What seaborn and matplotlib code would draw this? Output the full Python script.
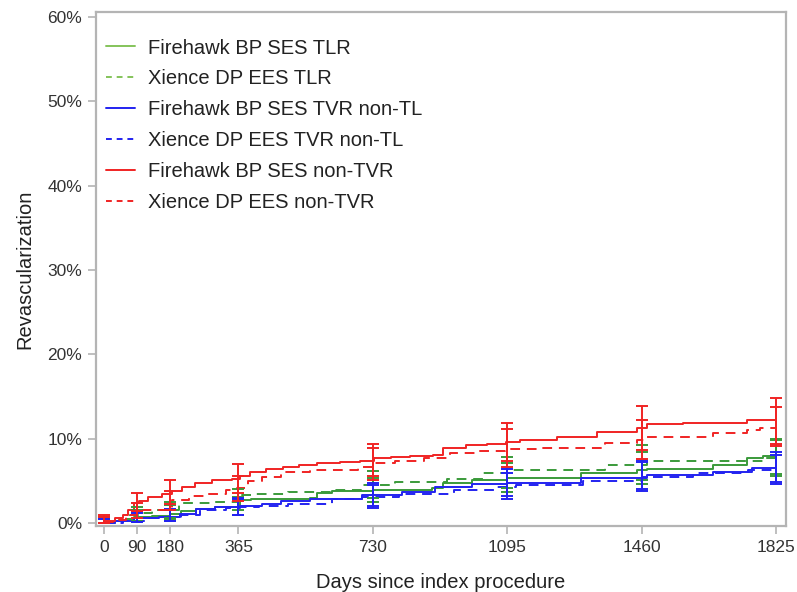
import matplotlib
matplotlib.use("Agg")
import matplotlib.pyplot as plt
import seaborn as sns
import pandas as pd
import numpy as np

# ---------------- data ----------------
series_names = [
    "Firehawk BP SES TLR",
    "Xience DP EES TLR",
    "Firehawk BP SES TVR non-TL",
    "Xience DP EES TVR non-TL",
    "Firehawk BP SES non-TVR",
    "Xience DP EES non-TVR",
]

# Step curves (days, cumulative %)
f_tlr_days = [0, 30, 60, 80, 130, 180, 210, 250, 300, 368, 400, 560, 578, 620, 730, 890, 920, 1000, 1095, 1294, 1448, 1475, 1655, 1746, 1790, 1825]
f_tlr_pct = [0.05, 0.3, 0.5, 0.75, 0.85, 1.1, 1.4, 1.7, 1.9, 2.7, 2.9, 3.0, 3.6, 3.8, 3.9, 4.1, 4.7, 5.1, 5.4, 5.9, 6.3, 6.4, 6.9, 7.7, 7.9, 7.9]

x_tlr_days = [0, 40, 70, 95, 130, 204, 300, 365, 375, 400, 500, 620, 700, 790, 930, 1030, 1100, 1360, 1475, 1700, 1790, 1825]
x_tlr_pct = [0.05, 0.4, 0.95, 1.2, 1.5, 2.4, 2.5, 2.7, 3.3, 3.5, 3.7, 3.9, 4.5, 4.9, 5.2, 5.9, 6.3, 6.9, 7.3, 7.4, 7.7, 7.7]

f_tvr_days = [0, 30, 80, 150, 205, 250, 300, 370, 430, 480, 560, 700, 810, 900, 1000, 1095, 1294, 1475, 1655, 1760, 1825]
f_tvr_pct = [0.0, 0.3, 0.6, 0.75, 1.1, 1.7, 1.95, 2.05, 2.2, 2.65, 2.9, 3.3, 3.7, 4.3, 4.6, 4.75, 5.3, 5.7, 6.1, 6.5, 6.5]

x_tvr_days = [0, 50, 120, 210, 260, 330, 370, 420, 500, 620, 700, 800, 950, 1060, 1120, 1300, 1460, 1600, 1750, 1825]
x_tvr_pct = [0.0, 0.3, 0.55, 0.95, 1.5, 1.8, 1.9, 2.0, 2.3, 2.9, 3.1, 3.5, 3.9, 4.3, 4.5, 5.0, 5.5, 5.9, 6.3, 6.3]

f_ntvr_days = [0, 15, 30, 50, 65, 80, 95, 120, 157, 185, 211, 248, 293, 348, 368, 395, 440, 487, 530, 577, 640, 695, 732, 780, 830, 893, 920, 983, 1040, 1092, 1130, 1230, 1339, 1448, 1475, 1573, 1746, 1825]
f_ntvr_pct = [0.2, 0.3, 0.55, 1.0, 1.5, 2.4, 2.6, 3.1, 3.5, 3.8, 4.3, 4.8, 5.1, 5.2, 5.6, 6.0, 6.4, 6.7, 6.9, 7.1, 7.2, 7.3, 7.7, 7.8, 7.9, 8.1, 8.9, 9.25, 9.4, 9.65, 9.8, 10.2, 10.8, 11.3, 11.7, 11.9, 12.2, 12.2]

x_ntvr_days = [0, 30, 60, 85, 185, 230, 280, 330, 360, 390, 430, 480, 560, 690, 735, 790, 870, 940, 1010, 1090, 1175, 1360, 1448, 1475, 1655, 1746, 1782, 1825]
x_ntvr_pct = [0.1, 0.4, 0.9, 1.5, 2.7, 3.2, 3.5, 3.9, 4.1, 5.0, 5.5, 6.1, 6.3, 6.6, 7.1, 7.3, 7.7, 8.3, 8.5, 8.8, 8.9, 9.5, 9.8, 10.2, 10.7, 11.0, 11.3, 11.4]

# Confidence intervals at landmark days
ci_days = [0, 90, 180, 365, 730, 1095, 1460, 1825]
f_tlr_lo = [0.0, 0.2, 0.5, 1.0, 2.5, 3.7, 4.6, 5.8]
f_tlr_hi = [0.6, 1.6, 2.1, 3.1, 5.3, 7.1, 8.4, 10.0]
x_tlr_lo = [0.0, 0.3, 0.6, 1.5, 3.0, 4.1, 5.1, 5.6]
x_tlr_hi = [0.7, 1.9, 2.5, 4.0, 6.2, 7.8, 9.2, 9.9]
f_tvr_lo = [0.0, 0.1, 0.2, 1.0, 2.0, 3.2, 4.0, 4.9]
f_tvr_hi = [0.5, 1.3, 1.7, 3.0, 4.7, 6.4, 7.5, 8.4]
x_tvr_lo = [0.0, 0.1, 0.2, 0.9, 1.8, 2.9, 3.8, 4.6]
x_tvr_hi = [0.5, 1.2, 1.6, 2.9, 4.5, 5.9, 7.2, 8.1]
f_ntvr_lo = [0.0, 1.4, 2.3, 3.6, 5.6, 7.3, 8.7, 9.4]
f_ntvr_hi = [0.9, 3.6, 5.1, 7.0, 9.4, 11.9, 13.9, 14.8]
x_ntvr_lo = [0.0, 0.6, 1.6, 2.6, 5.1, 6.7, 7.6, 9.1]
x_ntvr_hi = [0.7, 2.4, 3.8, 5.6, 8.9, 11.1, 12.2, 13.8]

x_ticks = [0, 90, 180, 365, 730, 1095, 1460, 1825]
y_ticks = [0, 10, 20, 30, 40, 50, 60]
y_tick_labels = ["0%", "10%", "20%", "30%", "40%", "50%", "60%"]

# ---------------- build frames ----------------
curves = [
    (f_tlr_days, f_tlr_pct), (x_tlr_days, x_tlr_pct),
    (f_tvr_days, f_tvr_pct), (x_tvr_days, x_tvr_pct),
    (f_ntvr_days, f_ntvr_pct), (x_ntvr_days, x_ntvr_pct),
]
cis = [
    (f_tlr_lo, f_tlr_hi), (x_tlr_lo, x_tlr_hi),
    (f_tvr_lo, f_tvr_hi), (x_tvr_lo, x_tvr_hi),
    (f_ntvr_lo, f_ntvr_hi), (x_ntvr_lo, x_ntvr_hi),
]
rows = []
for name, (d, p) in zip(series_names, curves):
    for di, pi in zip(d, p):
        rows.append({"day": di, "pct": pi, "series": name})
df = pd.DataFrame(rows)

GREEN = "#3a9a3a"
BLUE = "#2323f0"
RED = "#f02424"
palette = {
    series_names[0]: GREEN, series_names[1]: GREEN,
    series_names[2]: BLUE, series_names[3]: BLUE,
    series_names[4]: RED, series_names[5]: RED,
}
dashes = {
    series_names[0]: "", series_names[1]: (5, 3.5),
    series_names[2]: "", series_names[3]: (5, 3.5),
    series_names[4]: "", series_names[5]: (5, 3.5),
}

sns.set_theme(style="white")
plt.rcParams["font.family"] = ["Liberation Sans", "DejaVu Sans"]

fig = plt.figure(figsize=(7.97, 5.92), dpi=100)
ax = fig.add_axes([96 / 797, 1 - 526 / 592, 690 / 797, 514 / 592])

sns.lineplot(data=df, x="day", y="pct", hue="series", style="series",
             hue_order=series_names, style_order=series_names,
             palette=palette, dashes=dashes, estimator=None, sort=False,
             drawstyle="steps-post", linewidth=1.4, ax=ax, legend=True)

# error bars
for name, (lo, hi) in zip(series_names, cis):
    lo = np.array(lo); hi = np.array(hi)
    mid = (lo + hi) / 2
    ax.errorbar(ci_days, mid, yerr=[mid - lo, hi - mid], fmt="none",
                ecolor=palette[name], elinewidth=1.4, capsize=4.5,
                capthick=1.4, zorder=3)

ax.set_xlim(-22, 1852)
ax.set_ylim(-0.35, 60.6)
ax.set_xticks(x_ticks)
ax.set_xticklabels([str(t) for t in x_ticks])
ax.set_yticks(y_ticks)
ax.set_yticklabels(y_tick_labels)

for s in ax.spines.values():
    s.set_color("#b4b4b4")
    s.set_linewidth(1.6)
ax.tick_params(axis="both", which="major", direction="out", length=6,
               width=1.2, color="#b4b4b4", labelsize=12.5,
               labelcolor="#333333", pad=4, bottom=True, left=True)

ax.set_xlabel("Days since index procedure", fontsize=14.5, color="#222222", labelpad=13)
ax.set_ylabel("Revascularization", fontsize=14.5, color="#222222", labelpad=9)

handles, labels = ax.get_legend_handles_labels()
leg = ax.legend(handles, labels, loc="upper left", bbox_to_anchor=(0.0, 0.968),
                frameon=False, fontsize=14.5, handlelength=1.45,
                handletextpad=0.65, labelspacing=0.59, borderaxespad=0.3,
                borderpad=0.2)
legend_colors = ["#84c35a", "#84c35a", BLUE, BLUE, RED, RED]
for h, c in zip(leg.get_lines(), legend_colors):
    h.set_color(c)
    h.set_linewidth(1.4)
    if h.get_linestyle() not in ("-", "solid"):
        h.set_dashes((3, 2.5))
for t in leg.get_texts():
    t.set_color("#222222")

fig.savefig("out.png", dpi=100)
